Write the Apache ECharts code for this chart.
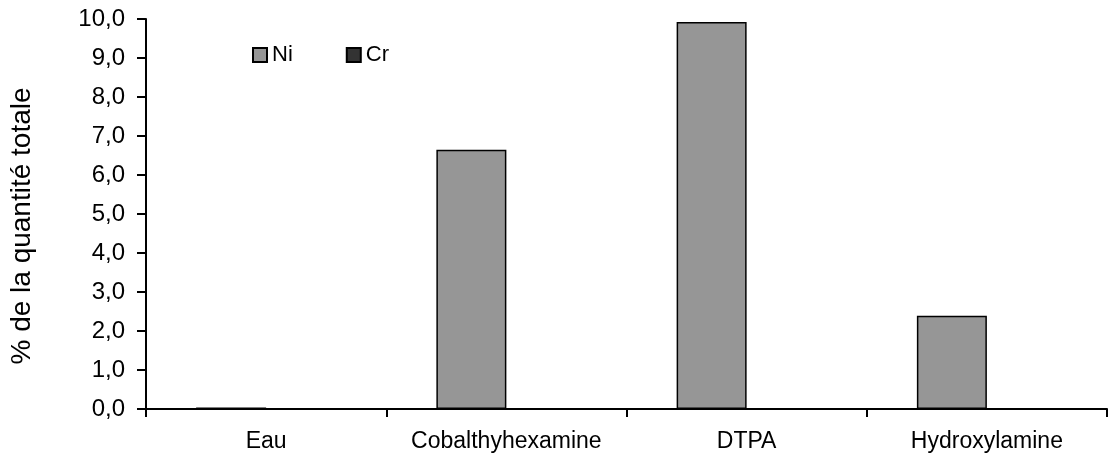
<!DOCTYPE html>
<html>
<head>
<meta charset="utf-8">
<script src="https://cdn.jsdelivr.net/npm/echarts@6/dist/echarts.min.js"></script>
<style>html,body{margin:0;padding:0;background:#fff}#c{width:1109px;height:456px}</style>
</head>
<body>
<div id="c"></div>
<script>
var categories = ['Eau', 'Cobalthyhexamine', 'DTPA', 'Hydroxylamine'];
var niValues = [0.04, 6.65, 9.92, 2.39];
var crValues = [0, 0, 0, 0];
var yTicks = [0, 1, 2, 3, 4, 5, 6, 7, 8, 9, 10];

var chart = echarts.init(document.getElementById('c'), null, {renderer: 'canvas'});
var font = 'Liberation Sans, Arial, sans-serif';
chart.setOption({
  animation: false,
  backgroundColor: '#ffffff',
  grid: {left: 145, right: 2, top: 19, bottom: 47, containLabel: false},
  legend: {
    left: 252, top: 44, padding: 0,
    itemWidth: 14, itemHeight: 14, itemGap: 53,
    icon: 'rect',
    textStyle: {fontFamily: font, fontSize: 22, color: '#000'},
    data: ['Ni', 'Cr']
  },
  xAxis: {
    type: 'category',
    data: categories,
    axisLine: {lineStyle: {color: '#000', width: 2}},
    axisTick: {show: true, interval: 0, length: 8, lineStyle: {color: '#000', width: 2}, alignWithLabel: false},
    axisLabel: {interval: 0, hideOverlap: false, fontFamily: font, fontSize: 23, color: '#000', margin: 21}
  },
  yAxis: {
    type: 'value',
    min: yTicks[0], max: yTicks[yTicks.length - 1], interval: 1,
    name: '% de la quantité totale',
    nameLocation: 'middle',
    nameGap: 110,
    nameTextStyle: {fontFamily: font, fontSize: 28, color: '#000', padding: [0, 24, 0, 0]},
    splitLine: {show: false},
    axisLine: {show: true, lineStyle: {color: '#000', width: 2}},
    axisTick: {show: true, length: 9, lineStyle: {color: '#000', width: 2}},
    axisLabel: {fontFamily: font, fontSize: 24, color: '#000', margin: 21,
      formatter: function (v) { return v.toFixed(1).replace('.', ','); }}
  },
  series: [
    {name: 'Ni', type: 'bar', data: niValues, barWidth: 70, barGap: '0%',
     itemStyle: {color: '#969696', borderColor: '#000', borderWidth: 1.5}},
    {name: 'Cr', type: 'bar', data: crValues, barWidth: 70,
     itemStyle: {color: '#333333', borderColor: '#000', borderWidth: 1.5}}
  ]
});
</script>
</body>
</html>
